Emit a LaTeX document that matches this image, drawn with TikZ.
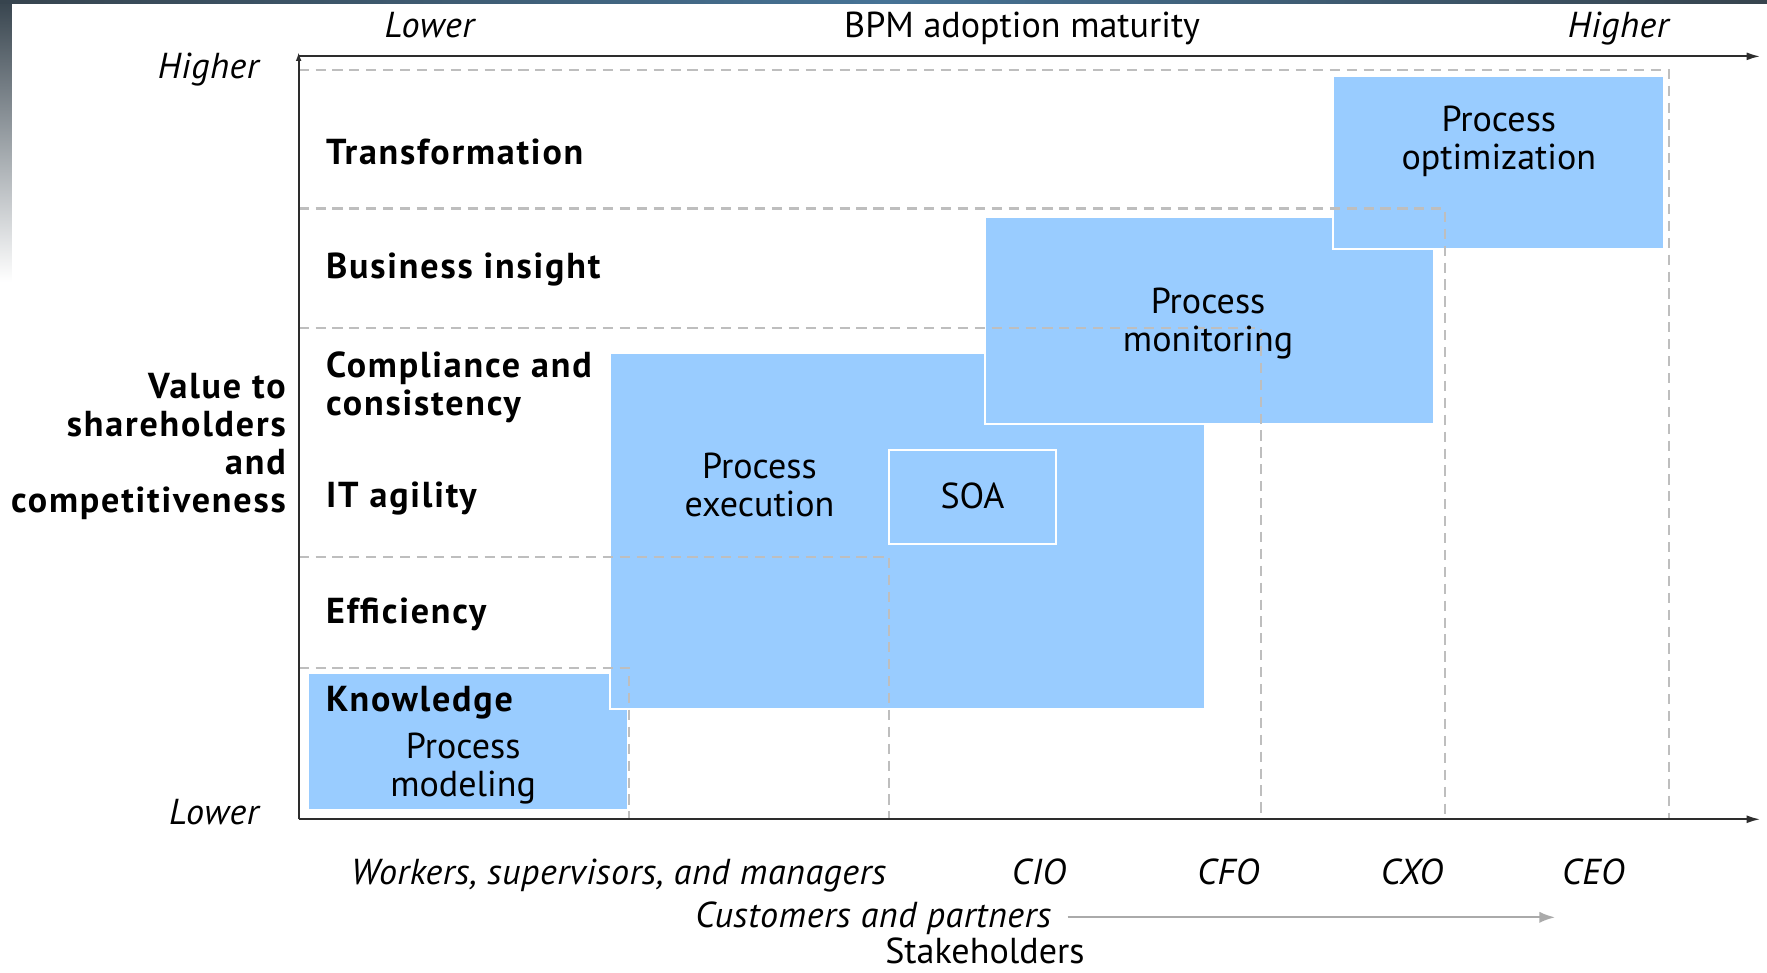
\documentclass[tikz,border=0pt]{standalone}
\usepackage{fontspec}
\setmainfont{PT Sans}
\usetikzlibrary{arrows.meta,fit}
\definecolor{boxblue}{RGB}{153,204,255}
\definecolor{dashgray}{RGB}{190,190,190}
\definecolor{axisgray}{RGB}{45,45,45}
\definecolor{slate}{RGB}{55,68,78}
\definecolor{steel}{RGB}{70,115,150}
\definecolor{arrgray}{RGB}{170,170,170}
\newcommand{\fsz}{\fontsize{16}{16.8}\selectfont}
\newcommand{\lines}[1]{\begin{tabular}[t]{@{}c@{}}#1\end{tabular}}
\newcommand{\rlines}[1]{\begin{tabular}[t]{@{}r@{}}#1\end{tabular}}
\newcommand{\llines}[1]{\begin{tabular}[t]{@{}l@{}}#1\end{tabular}}
\begin{document}
\begin{tikzpicture}[x=0.5pt,y=-0.5pt,
  box/.style={fill=boxblue, draw=white, line width=1pt, inner sep=0pt},
  gridline/.style={dashgray, line width=0.9pt, dash pattern=on 4.5pt off 3pt},
  axis/.style={axisgray, line width=0.9pt},
  lbl/.style={font=\fsz, inner sep=0pt},
  bold/.style={inner sep=0pt, font=\fsz\bfseries\addfontfeatures{LetterSpace=5}},
  ital/.style={inner sep=0pt, font=\fsz\itshape\addfontfeatures{LetterSpace=1.5}},
]
\useasboundingbox (0,0) rectangle (1568,863);
\fill[white] (0,0) rectangle (1568,863);
% frame artefacts
\shade[top color=slate, bottom color=white] (0,0) rectangle (10,250);
\shade[left color=slate, right color=slate, middle color=steel] (0,0) rectangle (1568,3);

% boxes
\node[box, fit={(273,597) (557,719)}] (model) {};
\node[box, fit={(541,313) (1069,629)}] (exec) {};
\node[box, fit={(874,192) (1273,376)}] (monit) {};
\node[box, fit={(1183,67) (1477,221)}] (optim) {};
\node[box, fit={(789,399) (937,483)}] (soa) {};

% axes
\coordinate (O) at (265,727);
\coordinate (Ytop) at (265,46);
\coordinate (Xend) at (1562,727);
\coordinate (Tl) at (265,50);
\coordinate (Tr) at (1562,50);

% grid
\draw[gridline] (265,62) -| (1481,727);
\draw[gridline] (265,185) -| (1282,727);
\draw[gridline] (265,291) -| (1119,727);
\draw[gridline] (265,494) -| (789,727);
\draw[gridline] (265,593) -| (558,727);

\draw[axis, -{Latex[length=6pt,width=3.5pt]}] (O) -- (Xend);
\draw[axis, -{Latex[length=4pt,width=2.5pt]}] (O) -- (Ytop);
\draw[axis, -{Latex[length=6pt,width=3.5pt]}] (Tl) -- (Tr);

% top labels
\node[ital, anchor=base] (tlow) at (381,33) {Lower};
\node[lbl, anchor=base] (ttitle) at (907,33) {BPM adoption maturity};
\node[ital, anchor=base] (thigh) at (1436,33) {Higher};
% left labels
\node[ital, anchor=base east] (lhigh) at (230,70) {Higher};
\node[ital, anchor=base east] (llow) at (230,732) {Lower};
\node[bold, anchor=base east] (value) at (254,354) {\rlines{Value to\\shareholders\\and\\competitiveness}};

% row labels
\node[bold, anchor=base west] (r1) at (289,146) {Transformation};
\node[bold, anchor=base west] (r2) at (289,247) {Business insight};
\node[bold, anchor=base west] (r3) at (289,335) {\llines{Compliance and\\consistency}};
\node[bold, anchor=base west] (r4) at (289,450) {IT agility};
\node[bold, anchor=base west] (r5) at (289,553) {Efficiency};
\node[bold, anchor=base west] (r6) at (289,631) {Knowledge};

% box labels
\node[lbl, anchor=base] (optimt) at (1330,117) {\lines{Process\\optimization}};
\node[lbl, anchor=base] (monitt) at (1072,278) {\lines{Process\\monitoring}};
\node[lbl, anchor=base] (exect) at (674,425) {\lines{Process\\execution}};
\node[lbl, anchor=base] (soat) at (soa.center |- 0,451) {SOA};
\node[lbl, anchor=base] (modelt) at (411,673) {\lines{Process\\modeling}};

% bottom labels
\node[ital, anchor=base] (b1) at (549,785) {Workers, supervisors, and managers};
\node[ital, anchor=base] (b2) at (922,785) {CIO};
\node[ital, anchor=base] (b3) at (1090,785) {CFO};
\node[ital, anchor=base] (b4) at (1253,785) {CXO};
\node[ital, anchor=base] (b5) at (1414,785) {CEO};
\node[ital, anchor=base] (cust) at (775,823) {Customers and partners};
\coordinate (custend) at (1380,814);
\draw[arrgray, line width=1pt, -{Latex[length=7pt,width=5pt]}] (cust.east |- custend) ++(14,0) -- (custend);
\node[lbl, anchor=base] (stake) at (874,855) {Stakeholders};
\end{tikzpicture}
\end{document}
